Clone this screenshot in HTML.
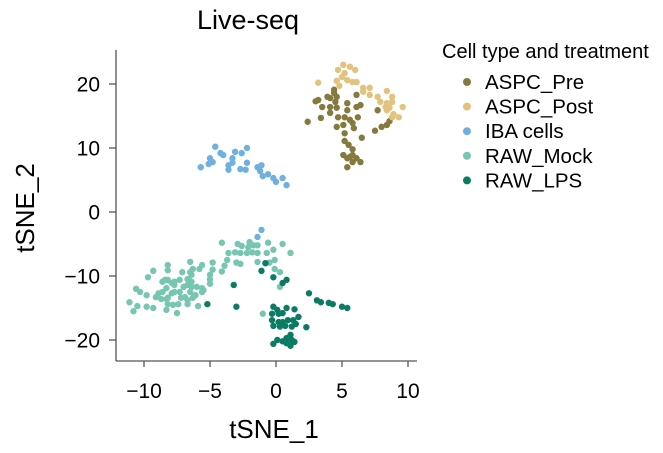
<!DOCTYPE html>
<html><head><meta charset="utf-8"><style>
body{margin:0;background:#fff;}
svg text{font-family:"Liberation Sans",sans-serif;fill:#000;}
</style></head><body>
<svg width="663" height="448">
<text x="248" y="29" font-size="27" text-anchor="middle">Live-seq</text>
<g id="axes"></g>
<g id="points"></g>
<text x="274" y="438" font-size="26" text-anchor="middle">tSNE_1</text>
<text x="34" y="208" font-size="26" text-anchor="middle" transform="rotate(-90 34 208)">tSNE_2</text>
<g id="legend">
<text x="442" y="58" font-size="20">Cell type and treatment</text>
</g>
</svg>
<script>
const xTicks=[-10,-5,0,5,10];
const yTicks=[-20,-10,0,10,20];
const groups=["ASPC_Pre","ASPC_Post","IBA cells","RAW_Mock","RAW_LPS"];
const colors=["#847a3e","#e2c27c","#6eb0e0","#76c6b2","#0b7b63"];
const preX=[2.4,3.0,3.2,3.5,3.4,3.9,4.1,4.4,4.4,4.6,4.1,4.5,4.6,4.1,4.7,4.6,5.1,5.4,5.4,5.2,5.6,5.8,5.9,6.1,6.2,6.4,6.1,5.2,6.5,5.2,5.5,5.8,5.1,5.4,5.8,6.1,5.8,6.4,5.4,7.7,7.5,8.0,8.4,8.6,5.6];
const preY=[14.1,17.3,17.5,16.4,14.7,18.0,17.8,19.1,18.6,18.0,16.4,17.2,16.3,15.5,14.8,13.3,13.6,17.0,15.9,14.8,14.4,13.9,13.1,16.4,14.8,16.7,18.3,12.3,11.6,11.1,10.5,9.8,8.9,8.4,8.9,8.4,7.8,7.8,7.0,15.9,12.7,13.3,13.6,14.2,8.6];
const postX=[5.1,4.7,5.6,6.0,5.2,5.0,5.4,4.6,5.8,6.1,4.8,3.2,6.6,7.1,6.6,7.1,7.7,8.4,8.8,7.9,8.4,8.8,9.6,8.6,8.4,8.9,8.8,9.3,8.3];
const postY=[23.0,22.2,22.7,22.2,21.7,21.1,20.6,20.5,20.3,20.3,19.7,20.2,19.4,19.4,18.8,18.3,18.0,18.9,18.0,17.2,17.0,17.2,16.4,16.3,15.9,15.3,14.8,14.8,16.4];
const ibaX=[-5.7,-4.6,-4.2,-4.0,-5.0,-4.8,-5.1,-3.1,-2.6,-2.2,-3.3,-3.6,-3.3,-2.7,-2.3,-2.2,-1.4,-1.1,-1.2,-1.0,-0.6,-0.2,0,0.5,0.8,-3.6,-1.1,-1.4];
const ibaY=[7.0,10.2,9.2,8.9,8.4,7.8,7.5,9.4,9.2,10.0,8.4,7.3,7.7,6.7,6.6,7.7,7.0,7.3,6.4,5.6,5.9,5.3,4.7,5.3,4.2,6.6,-2.8,-3.9];
const mockX=[-4.1,-2.9,-2.6,-2.0,-1.7,-2.1,-1.4,-0.6,0.5,-3.6,-3.1,-2.7,-2.2,-1.8,-1.4,-0.7,-0.2,1.1,-3.7,-3.0,-2.7,-1.4,-0.5,-0.1,-3.9,-4.1,-4.8,-4.8,-5.0,-5.0,-5.0,-5.6,-5.8,-6.3,-6.5,-6.4,-6.7,-6.4,-5.6,-5.5,-5.6,-6.1,-6.3,-6.5,-6.7,-6.9,-7.2,-7.0,-7.3,-7.7,-7.9,-8.2,-8.3,-8.7,-9.1,-8.9,-8.6,-8.3,-7.9,-7.7,-7.3,-7.1,-7.7,-8.2,-8.6,-8.4,-8.2,-8.2,-9.3,-9.7,-6.5,-6.6,-6.0,-6.4,-6.7,-10.6,-10.3,-9.8,-11.1,-10.5,-10.8,-9.8,-9.3,-8.3,-7.5,-8.2,-7.8,-7.4,-6.7,-5.9,-1.0,0.3,0.3,-0.1];
const mockY=[-4.8,-5.0,-5.3,-4.7,-5.2,-5.5,-5.2,-4.8,-5.0,-6.4,-6.3,-6.4,-6.4,-6.3,-6.4,-6.4,-5.9,-6.4,-7.5,-7.9,-8.1,-7.8,-7.9,-7.5,-8.4,-9.3,-7.9,-9.0,-9.8,-10.5,-11.2,-8.3,-8.9,-8.9,-7.8,-9.8,-10.5,-10.9,-11.9,-12.2,-12.5,-13.0,-13.4,-12.5,-13.8,-13.3,-13.4,-11.7,-12.5,-12.5,-12.7,-13.4,-13.6,-13.6,-13.3,-12.7,-12.5,-11.9,-11.1,-10.9,-10.6,-9.4,-11.4,-10.6,-10.9,-10.6,-9.1,-8.3,-9.2,-10.2,-9.4,-10.6,-11.7,-11.7,-11.4,-12.0,-12.5,-13.0,-14.1,-14.7,-15.5,-14.8,-15.0,-15.3,-15.8,-14.4,-14.5,-14.4,-14.4,-14.7,-15.9,-11.7,-9.4,-8.9];
const lpsX=[-0.8,-1.1,-0.2,0.5,0.8,-3.2,-5.2,-3.0,2.5,3.1,3.4,4.0,4.3,5.0,5.4,-0.2,0.1,-0.3,0.2,0.5,0.8,1.4,-0.3,0.2,0.5,0.9,1.3,1.7,1.5,-0.2,0.3,0.7,1.2,2.3,0.1,-0.2,0.5,0.8,1.1,1.2,1.4,1.1,0.8];
const lpsY=[-8.0,-9.2,-10.2,-11.1,-10.6,-11.4,-14.4,-14.8,-12.7,-13.8,-14.1,-14.2,-14.4,-14.8,-15.0,-14.8,-15.3,-15.9,-15.9,-15.8,-15.0,-15.2,-16.9,-17.2,-17.2,-16.9,-16.9,-16.4,-17.5,-17.8,-17.9,-17.8,-17.9,-18.0,-20.0,-20.6,-20.2,-19.7,-19.2,-20.0,-20.3,-20.9,-20.5];
const NS="http://www.w3.org/2000/svg";
const sx=v=>276+v*13.2, sy=v=>212-v*6.4;
const ax=document.getElementById('axes');
function mk(tag,attrs,parent){const e=document.createElementNS(NS,tag);for(const k in attrs)e.setAttribute(k,attrs[k]);parent.appendChild(e);return e;}
let l=mk('line',{x1:116,y1:50,x2:116,y2:361,stroke:'#555','stroke-width':1.3},ax);


l=mk('line',{x1:116,y1:361,x2:417,y2:361,stroke:'#555','stroke-width':1.3},ax);


xTicks.forEach(t=>{mk('line',{x1:sx(t),y1:361,x2:sx(t),y2:367,stroke:'#555','stroke-width':1.3},ax);
const tx=mk('text',{x:sx(t),y:398,'font-size':21,'text-anchor':'middle'},ax);tx.textContent=t<0?'\u2212'+(-t):t;

});
yTicks.forEach(t=>{mk('line',{x1:109,y1:sy(t),x2:116,y2:sy(t),stroke:'#555','stroke-width':1.3},ax);
const tx=mk('text',{x:100,y:sy(t)+7.5,'font-size':21,'text-anchor':'end'},ax);tx.textContent=t<0?'\u2212'+(-t):t;

});
const pg=document.getElementById('points');
const series=[[preX,preY],[postX,postY],[ibaX,ibaY],[mockX,mockY],[lpsX,lpsY]];
const order=[3,4,2,0,1];
order.forEach(i=>{const [xs,ys]=series[i];xs.forEach((x,j)=>{
const c=mk('circle',{cx:sx(x),cy:sy(ys[j]),r:3.2,fill:colors[i]},pg);

});});
const lg=document.getElementById('legend');
groups.forEach((g,i)=>{const y=82+i*24.6;
const c=mk('circle',{cx:467,cy:y,r:4,fill:colors[i]},lg);


const t=mk('text',{x:485,y:y+7,'font-size':20.5},lg);t.textContent=g;

});
</script>
</body></html>
